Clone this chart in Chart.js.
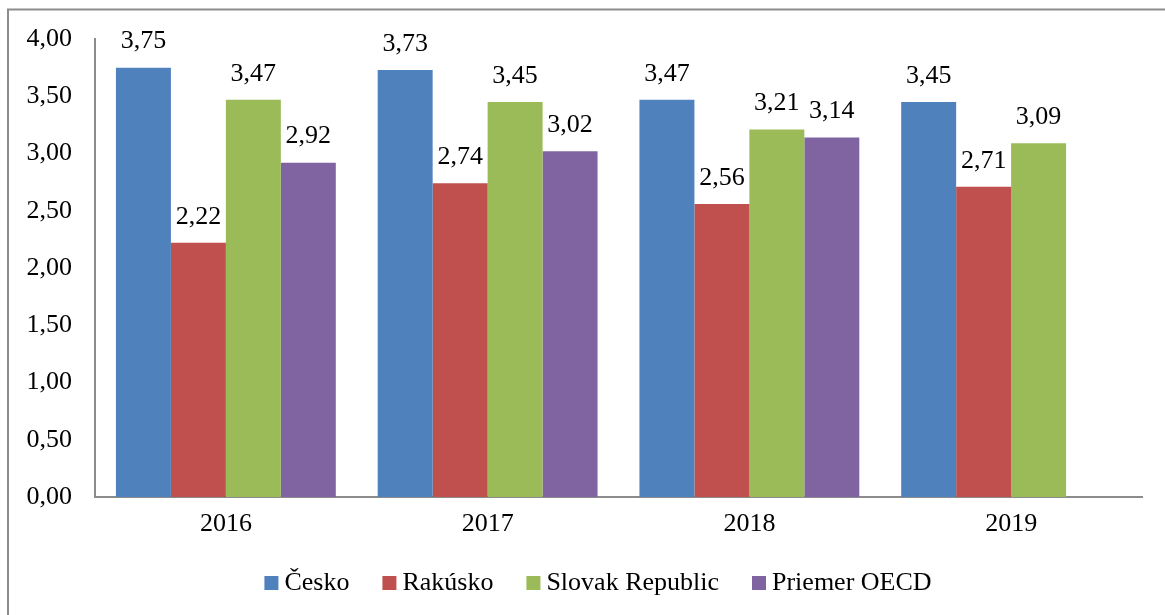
<!DOCTYPE html>
<html>
<head>
<meta charset="utf-8">
<script src="https://cdn.jsdelivr.net/npm/chart.js@4"></script>
<style>
  html, body { margin: 0; padding: 0; background: #fff; }
  #wrap { width: 1165px; height: 615px; }
</style>
</head>
<body>
<div id="wrap"><canvas id="chart" width="1165" height="615"></canvas></div>
<script>
const years = ['2016', '2017', '2018', '2019'];
const cesko = [3.75, 3.73, 3.47, 3.45];
const rakusko = [2.22, 2.74, 2.56, 2.71];
const slovakia = [3.47, 3.45, 3.21, 3.09];
const oecd = [2.92, 3.02, 3.14, null];
const yTicks = [0, 0.5, 1, 1.5, 2, 2.5, 3, 3.5, 4];

const fmt = v => v.toFixed(2).replace('.', ',');
const serif = "'Liberation Serif', 'Times New Roman', serif";

// outer frame (only top and left edges show in the original)
const framePlugin = {
    id: 'frame',
    beforeDraw(chart) {
        const ctx = chart.ctx;
        ctx.save();
        ctx.strokeStyle = '#8c8c8c';
        ctx.lineWidth = 2;
        ctx.beginPath();
        ctx.moveTo(8, 615);
        ctx.lineTo(8, 9.5);
        ctx.lineTo(1165, 9.5);
        ctx.stroke();
        ctx.restore();
    }
};

// value labels above bars
const valueLabels = {
    id: 'valueLabels',
    afterDatasetsDraw(chart) {
        const ctx = chart.ctx;
        ctx.save();
        ctx.font = '26px ' + serif;
        ctx.fillStyle = '#000';
        ctx.textAlign = 'center';
        ctx.textBaseline = 'middle';
        chart.data.datasets.forEach((ds, i) => {
            chart.getDatasetMeta(i).data.forEach((bar, j) => {
                const v = ds.data[j];
                if (v === null) return;
                ctx.fillText(fmt(v), bar.x, bar.y - 26);
            });
        });
        ctx.restore();
    }
};

// legend drawn by hand so the spacing matches the original
const legendPlugin = {
    id: 'handLegend',
    afterDraw(chart) {
        const ctx = chart.ctx;
        const box = 14, gap = 6, spacing = 33, cy = 583, centerX = 598;
        ctx.save();
        ctx.font = '26px ' + serif;
        ctx.textBaseline = 'middle';
        const items = chart.data.datasets.map(ds => ({
            text: ds.label, color: ds.backgroundColor,
            w: ctx.measureText(ds.label).width
        }));
        const total = items.reduce((s, it) => s + box + gap + it.w, 0) + spacing * (items.length - 1);
        let x = centerX - total / 2;
        items.forEach(it => {
            ctx.fillStyle = it.color;
            ctx.fillRect(x, cy - box / 2, box, box);
            x += box + gap;
            ctx.fillStyle = '#000';
            ctx.fillText(it.text, x, cy);
            x += it.w + spacing;
        });
        ctx.restore();
    }
};

const ctx = document.getElementById('chart').getContext('2d');
new Chart(ctx, {
    type: 'bar',
    data: {
        labels: years,
        datasets: [
            { label: 'Česko', data: cesko, backgroundColor: '#4F81BD' },
            { label: 'Rakúsko', data: rakusko, backgroundColor: '#C0504D' },
            { label: 'Slovak Republic', data: slovakia, backgroundColor: '#9BBB59' },
            { label: 'Priemer OECD', data: oecd, backgroundColor: '#8064A2' }
        ]
    },
    options: {
        responsive: false,
        animation: false,
        categoryPercentage: 0.84,
        barPercentage: 1,
        layout: { padding: { left: 0, right: 23, top: 39, bottom: 68 } },
        plugins: {
            legend: { display: false },
            tooltip: { enabled: false }
        },
        scales: {
            x: {
                grid: { display: false, drawTicks: false },
                border: { color: '#8c8c8c', width: 2 },
                ticks: { font: { family: serif, size: 26 }, color: '#000', padding: 12 },
                afterFit(scale) { scale.height = 50; }
            },
            y: {
                min: 0,
                max: 4,
                grid: { display: false, drawTicks: false },
                border: { color: '#8c8c8c', width: 2 },
                afterBuildTicks(scale) { scale.ticks = yTicks.map(v => ({ value: v })); },
                ticks: {
                    font: { family: serif, size: 26 },
                    color: '#000',
                    padding: 23,
                    callback: v => fmt(v)
                },
                afterFit(scale) { scale.width = 95; }
            }
        }
    },
    plugins: [framePlugin, valueLabels, legendPlugin]
});
</script>
</body>
</html>
